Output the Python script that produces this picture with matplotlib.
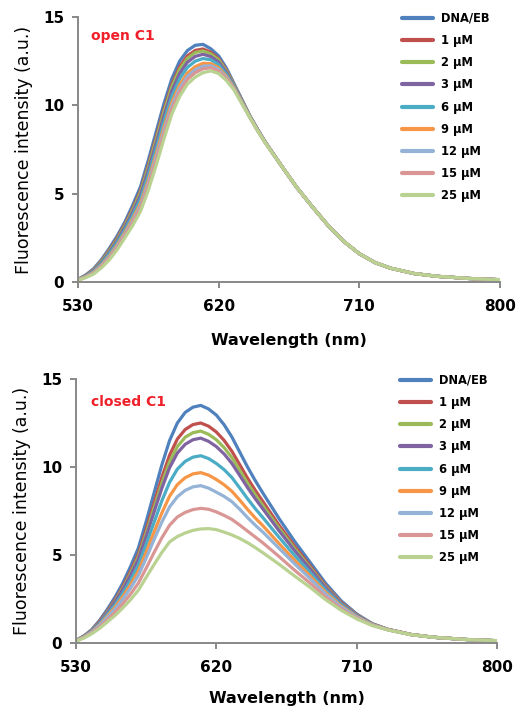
import matplotlib
matplotlib.use("Agg")
import matplotlib.pyplot as plt

# wavelength grid (nm) at which the spectra were read
wavelength = [530, 535, 540, 545, 550, 555, 560, 565, 570, 575, 580, 585, 590, 595, 600, 605,
              610, 615, 620, 625, 630, 635, 640, 645, 650, 660, 670, 680, 690, 700, 710, 720,
              730, 745, 760, 780, 800]

labels = ["DNA/EB", "1 µM", "2 µM", "3 µM", "6 µM", "9 µM", "12 µM", "15 µM", "25 µM"]
colors = ["#4F81BD", "#C0504D", "#9BBB59", "#8064A2", "#4BACC6", "#F79646", "#95B3D7", "#D99694", "#B9D291"]

# open C1: the red tail (660 nm onwards) is common to all nine curves
open_tail = [6.6, 5.35, 4.25, 3.2, 2.3, 1.6, 1.1, 0.78, 0.48, 0.32, 0.2, 0.13]
open_0 = [0.15, 0.40, 0.75, 1.27, 1.90, 2.60, 3.40, 4.35, 5.40, 6.90, 8.50, 10.10, 11.50, 12.50,
          13.10, 13.40, 13.45, 13.20, 12.80, 12.10, 11.20, 10.30, 9.40, 8.63, 7.90] + open_tail
open_1 = [0.14, 0.37, 0.70, 1.20, 1.80, 2.48, 3.26, 4.17, 5.18, 6.63, 8.20, 9.78, 11.18, 12.18,
          12.80, 13.11, 13.19, 13.00, 12.64, 11.99, 11.14, 10.26, 9.38, 8.61, 7.89] + open_tail
open_2 = [0.14, 0.36, 0.68, 1.17, 1.75, 2.42, 3.19, 4.08, 5.08, 6.51, 8.06, 9.64, 11.04, 12.04,
          12.66, 12.99, 13.08, 12.91, 12.57, 11.94, 11.12, 10.25, 9.38, 8.61, 7.89] + open_tail
open_3 = [0.13, 0.35, 0.65, 1.11, 1.67, 2.33, 3.09, 3.95, 4.91, 6.31, 7.84, 9.40, 10.80, 11.80,
          12.44, 12.77, 12.89, 12.76, 12.45, 11.86, 11.08, 10.22, 9.37, 8.60, 7.88] + open_tail
open_6 = [0.13, 0.33, 0.60, 1.04, 1.58, 2.22, 2.95, 3.78, 4.70, 6.05, 7.55, 9.10, 10.50, 11.50,
          12.15, 12.50, 12.65, 12.58, 12.30, 11.75, 11.03, 10.19, 9.35, 8.59, 7.88] + open_tail
open_9 = [0.12, 0.30, 0.55, 0.96, 1.46, 2.08, 2.80, 3.58, 4.46, 5.76, 7.23, 8.76, 10.16, 11.16,
          11.83, 12.19, 12.38, 12.36, 12.13, 11.63, 10.97, 10.15, 9.33, 8.57, 7.87] + open_tail
open_12 = [0.11, 0.28, 0.52, 0.91, 1.40, 2.00, 2.71, 3.47, 4.32, 5.59, 7.04, 8.56, 9.96, 10.96,
           11.64, 12.01, 12.22, 12.24, 12.03, 11.56, 10.93, 10.12, 9.32, 8.56, 7.86] + open_tail
open_15 = [0.11, 0.27, 0.49, 0.86, 1.34, 1.93, 2.63, 3.37, 4.20, 5.44, 6.87, 8.38, 9.78, 10.78,
           11.47, 11.85, 12.07, 12.13, 11.94, 11.50, 10.90, 10.10, 9.31, 8.56, 7.86] + open_tail
open_25 = [0.10, 0.25, 0.45, 0.80, 1.25, 1.82, 2.50, 3.20, 4.00, 5.20, 6.60, 8.10, 9.50, 10.50,
           11.20, 11.60, 11.85, 11.95, 11.80, 11.40, 10.85, 10.07, 9.30, 8.55, 7.85] + open_tail

# closed C1
closed_0 = [0.15, 0.40, 0.75, 1.27, 1.90, 2.60, 3.40, 4.35, 5.40, 6.90, 8.50, 10.10, 11.50, 12.50,
            13.10, 13.40, 13.50, 13.30, 12.95, 12.40, 11.70, 10.85, 10.00, 9.22, 8.50, 7.10, 5.80,
            4.60, 3.40, 2.40, 1.65, 1.10, 0.78, 0.48, 0.32, 0.20, 0.13]
closed_1 = [0.14, 0.38, 0.72, 1.21, 1.80, 2.45, 3.20, 4.08, 5.05, 6.44, 7.92, 9.39, 10.67, 11.59,
            12.13, 12.41, 12.50, 12.32, 11.99, 11.51, 10.89, 10.13, 9.37, 8.67, 8.02, 6.72, 5.52,
            4.40, 3.27, 2.32, 1.61, 1.08, 0.77, 0.48, 0.32, 0.20, 0.13]
closed_2 = [0.14, 0.37, 0.70, 1.17, 1.75, 2.38, 3.11, 3.96, 4.90, 6.24, 7.66, 9.06, 10.29, 11.16,
            11.69, 11.95, 12.04, 11.86, 11.55, 11.10, 10.53, 9.81, 9.08, 8.41, 7.79, 6.55, 5.39,
            4.30, 3.21, 2.28, 1.59, 1.08, 0.77, 0.48, 0.32, 0.20, 0.13]
closed_3 = [0.14, 0.36, 0.69, 1.15, 1.71, 2.32, 3.03, 3.85, 4.76, 6.05, 7.42, 8.78, 9.96, 10.79,
            11.29, 11.55, 11.64, 11.46, 11.16, 10.74, 10.20, 9.52, 8.83, 8.19, 7.60, 6.40, 5.27,
            4.22, 3.15, 2.25, 1.57, 1.07, 0.77, 0.48, 0.32, 0.20, 0.13]
closed_6 = [0.13, 0.34, 0.65, 1.08, 1.61, 2.17, 2.82, 3.57, 4.42, 5.60, 6.84, 8.07, 9.13, 9.88,
            10.32, 10.56, 10.64, 10.48, 10.20, 9.85, 9.40, 8.81, 8.20, 7.63, 7.11, 6.03, 4.99,
            4.02, 3.02, 2.18, 1.53, 1.05, 0.76, 0.48, 0.32, 0.20, 0.13]
closed_9 = [0.13, 0.33, 0.62, 1.02, 1.51, 2.03, 2.63, 3.32, 4.09, 5.16, 6.29, 7.38, 8.34, 9.00,
            9.39, 9.61, 9.68, 9.54, 9.29, 8.99, 8.62, 8.12, 7.59, 7.10, 6.65, 5.67, 4.72,
            3.82, 2.89, 2.10, 1.50, 1.04, 0.76, 0.48, 0.32, 0.20, 0.13]
closed_12 = [0.12, 0.32, 0.60, 0.98, 1.44, 1.92, 2.48, 3.12, 3.83, 4.82, 5.86, 6.86, 7.73, 8.31,
             8.67, 8.87, 8.94, 8.80, 8.57, 8.33, 8.03, 7.60, 7.13, 6.69, 6.29, 5.40, 4.51,
             3.67, 2.79, 2.04, 1.47, 1.03, 0.75, 0.47, 0.32, 0.20, 0.13]
closed_15 = [0.12, 0.30, 0.56, 0.90, 1.31, 1.74, 2.23, 2.78, 3.40, 4.25, 5.13, 5.97, 6.69, 7.16,
             7.42, 7.58, 7.65, 7.60, 7.45, 7.25, 7.02, 6.70, 6.36, 6.02, 5.68, 4.93, 4.15,
             3.41, 2.62, 1.94, 1.42, 1.01, 0.75, 0.47, 0.32, 0.20, 0.13]
closed_25 = [0.11, 0.28, 0.52, 0.82, 1.19, 1.56, 1.99, 2.46, 3.00, 3.73, 4.45, 5.14, 5.74, 6.05,
             6.25, 6.40, 6.48, 6.50, 6.44, 6.30, 6.14, 5.94, 5.70, 5.42, 5.12, 4.49, 3.82,
             3.17, 2.47, 1.86, 1.37, 0.99, 0.74, 0.47, 0.32, 0.20, 0.13]

open_series = [open_0, open_1, open_2, open_3, open_6, open_9, open_12, open_15, open_25]
closed_series = [closed_0, closed_1, closed_2, closed_3, closed_6, closed_9, closed_12, closed_15, closed_25]

axis_grey = "#888888"


def draw_panel(ax, series, tag, tag_xy, leg_x, xpad):
    for ys, lab, c in zip(series, labels, colors):
        ax.plot(wavelength, ys, color=c, lw=2.3, label=lab, solid_capstyle="round",
                solid_joinstyle="round")
    ax.set_xlim(530, 800)
    ax.set_ylim(0, 15)
    ax.set_xticks([530, 620, 710, 800])
    ax.set_yticks([0, 5, 10, 15])
    for s in ["top", "right"]:
        ax.spines[s].set_visible(False)
    for s in ["left", "bottom"]:
        ax.spines[s].set_color(axis_grey)
        ax.spines[s].set_linewidth(1.4)
    ax.tick_params(direction="out", length=4, width=1.4, color=axis_grey,
                   labelsize=11, labelcolor="black")
    ax.tick_params(axis="x", pad=8)
    ax.tick_params(axis="y", pad=6)
    for t in ax.get_xticklabels() + ax.get_yticklabels():
        t.set_fontweight("bold")
    ax.set_xlabel("Wavelength (nm)", fontsize=11.5, fontweight="bold", labelpad=xpad)
    ax.set_ylabel("Fluorescence intensity (a.u.)", fontsize=12.5, labelpad=7)
    ax.text(tag_xy[0], tag_xy[1], tag, transform=ax.transAxes, color="#F0202A",
            fontsize=10, fontweight="bold", ha="left", va="center")
    leg = ax.legend(loc="upper left", bbox_to_anchor=(leg_x, 1.02), frameon=False,
                    fontsize=8.3, handlelength=2.7, handletextpad=0.7, labelspacing=0.8,
                    borderpad=0, borderaxespad=0)
    for t in leg.get_texts():
        t.set_fontweight("bold")
    for h in leg.get_lines():
        h.set_linewidth(3)


fig = plt.figure(figsize=(5.17, 7.08), dpi=100)
ax1 = fig.add_axes([78 / 517, 1 - 282 / 708, 422 / 517, 265 / 708])
ax2 = fig.add_axes([76 / 517, 1 - 643 / 708, 421 / 517, 264 / 708])

draw_panel(ax1, open_series, "open C1", (0.031, 0.928), 0.768, 14)
draw_panel(ax2, closed_series, "closed C1", (0.036, 0.913), 0.77, 12)

fig.savefig("out.png", dpi=100)
